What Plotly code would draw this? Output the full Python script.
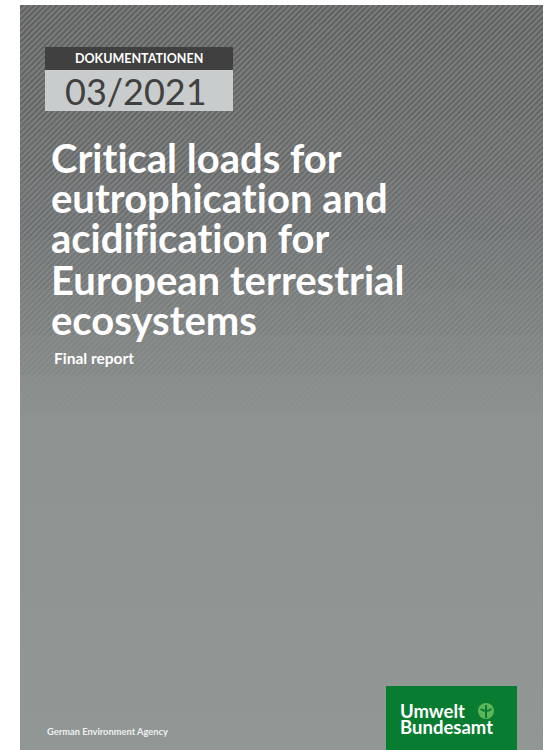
import plotly.graph_objects as go

# ---- content ----
series_label = ["DOKUMENTATIONEN"]
issue = ["03/2021"]
title_lines = ["Critical loads for", "eutrophication and", "acidification for",
               "European terrestrial", "ecosystems"]
title_baselines = [173, 213, 253, 295, 335]
subtitle = ["Final report"]
agency = ["German Environment Agency"]
logo_lines = ["Umwelt", "Bundesamt"]
logo_baselines = [718, 734]

# hatch bands (top, bottom, opacity of dark diagonal lines)
hatch_top = [5, 60, 120, 180, 240, 290, 335, 375]
hatch_bottom = [60, 120, 180, 240, 290, 335, 375, 410]
hatch_alpha = [0.55, 0.5, 0.44, 0.36, 0.28, 0.2, 0.12, 0.05]

W, H = 546, 750
X0, X1, Y0, Y1 = 20, 543, 5, 750

fig = go.Figure()

# gradient background
fig.add_trace(go.Scatter(
    x=[X0, X1, X1, X0, X0], y=[Y0, Y0, Y1, Y1, Y0],
    mode="lines", line=dict(width=0), fill="toself",
    fillgradient=dict(type="vertical", start=Y0, stop=Y1,
                      colorscale=[[0, "#7a7b7b"], [0.3, "#7f8383"],
                                  [0.55, "#8d9391"], [1, "#909795"]]),
    hoverinfo="skip", showlegend=False))

# diagonal hatch, fading downwards
for t, b, a in zip(hatch_top, hatch_bottom, hatch_alpha):
    fig.add_trace(go.Scatter(
        x=[X0, X1, X1, X0, X0], y=[t, t, b, b, t],
        mode="lines", line=dict(width=0), fill="toself",
        fillcolor="rgba(0,0,0,0)",
        fillpattern=dict(shape="/", size=4, solidity=0.4,
                         fgcolor="rgb(62,62,62)", fgopacity=a,
                         bgcolor="rgba(0,0,0,0)", fillmode="overlay"),
        hoverinfo="skip", showlegend=False))

shapes = [
    dict(type="rect", x0=45, x1=233, y0=47, y1=70, fillcolor="#404040", line_width=0, layer="above"),
    dict(type="rect", x0=45, x1=233, y0=70, y1=111, fillcolor="#c9cccc", line_width=0, layer="above"),
    dict(type="rect", x0=386, x1=517, y0=686, y1=750, fillcolor="#087c30", line_width=0, layer="above"),
    dict(type="circle", x0=478, x1=494, y0=703, y1=719, fillcolor="#5fb65a", line_width=0, layer="above"),
    dict(type="line", x0=486, x1=486, y0=705, y1=718, line=dict(color="#087c30", width=2), layer="above"),
    dict(type="path", path="M 480.5 709 Q 486 713 491.5 709", line=dict(color="#087c30", width=1.6), layer="above"),
]

F = "Lato"
ZW = "\u200c"  # break the 'ti' ligature
ann = []
ann.append(dict(x=139, y=58.5, text=f"<b>{series_label[0]}</b>", xanchor="center", yanchor="middle",
                font=dict(family=F, size=12.5, color="white")))
ann.append(dict(x=136, y=91, text=issue[0], xanchor="center", yanchor="middle",
                font=dict(family=F, size=36, color="#404040")))
fs = 40
for line, bl in zip(title_lines, title_baselines):
    txt = line.replace("ti", "t" + ZW + "i").replace("fi", "f" + ZW + "i")
    ann.append(dict(x=51, y=bl + 0.213 * fs, text=f"<b>{txt}</b>", xanchor="left", yanchor="bottom",
                    height=39, valign="bottom", borderpad=0, borderwidth=0,
                    font=dict(family=F, size=fs, color="white")))
ann.append(dict(x=52, y=358, text=f"<b>{subtitle[0]}</b>", xanchor="left", yanchor="middle",
                font=dict(family=F, size=15.5, color="white")))
ann.append(dict(x=45, y=731, text=f"<b>{agency[0]}</b>", xanchor="left", yanchor="middle",
                font=dict(family=F, size=9.3, color="#eef0ef")))
lfs = 18.5
for line, bl in zip(logo_lines, logo_baselines):
    ann.append(dict(x=400, y=bl - 0.387 * lfs, text=f"<b>{line}</b>", xanchor="left", yanchor="middle",
                    height=16, valign="middle", borderpad=0, borderwidth=0,
                    font=dict(family=F, size=lfs, color="white")))
for a in ann:
    a.update(xref="x", yref="y", showarrow=False)

fig.update_layout(
    width=W, height=H, margin=dict(l=0, r=0, t=0, b=0),
    paper_bgcolor="white", plot_bgcolor="white",
    showlegend=False,
    xaxis=dict(range=[0, W], visible=False, fixedrange=True),
    yaxis=dict(range=[H, 0], visible=False, fixedrange=True),
    shapes=shapes, annotations=ann,
)
fig.write_html("out.html", config={"displayModeBar": False},
               post_script="document.body.style.margin='0';document.body.style.overflow='hidden';")
